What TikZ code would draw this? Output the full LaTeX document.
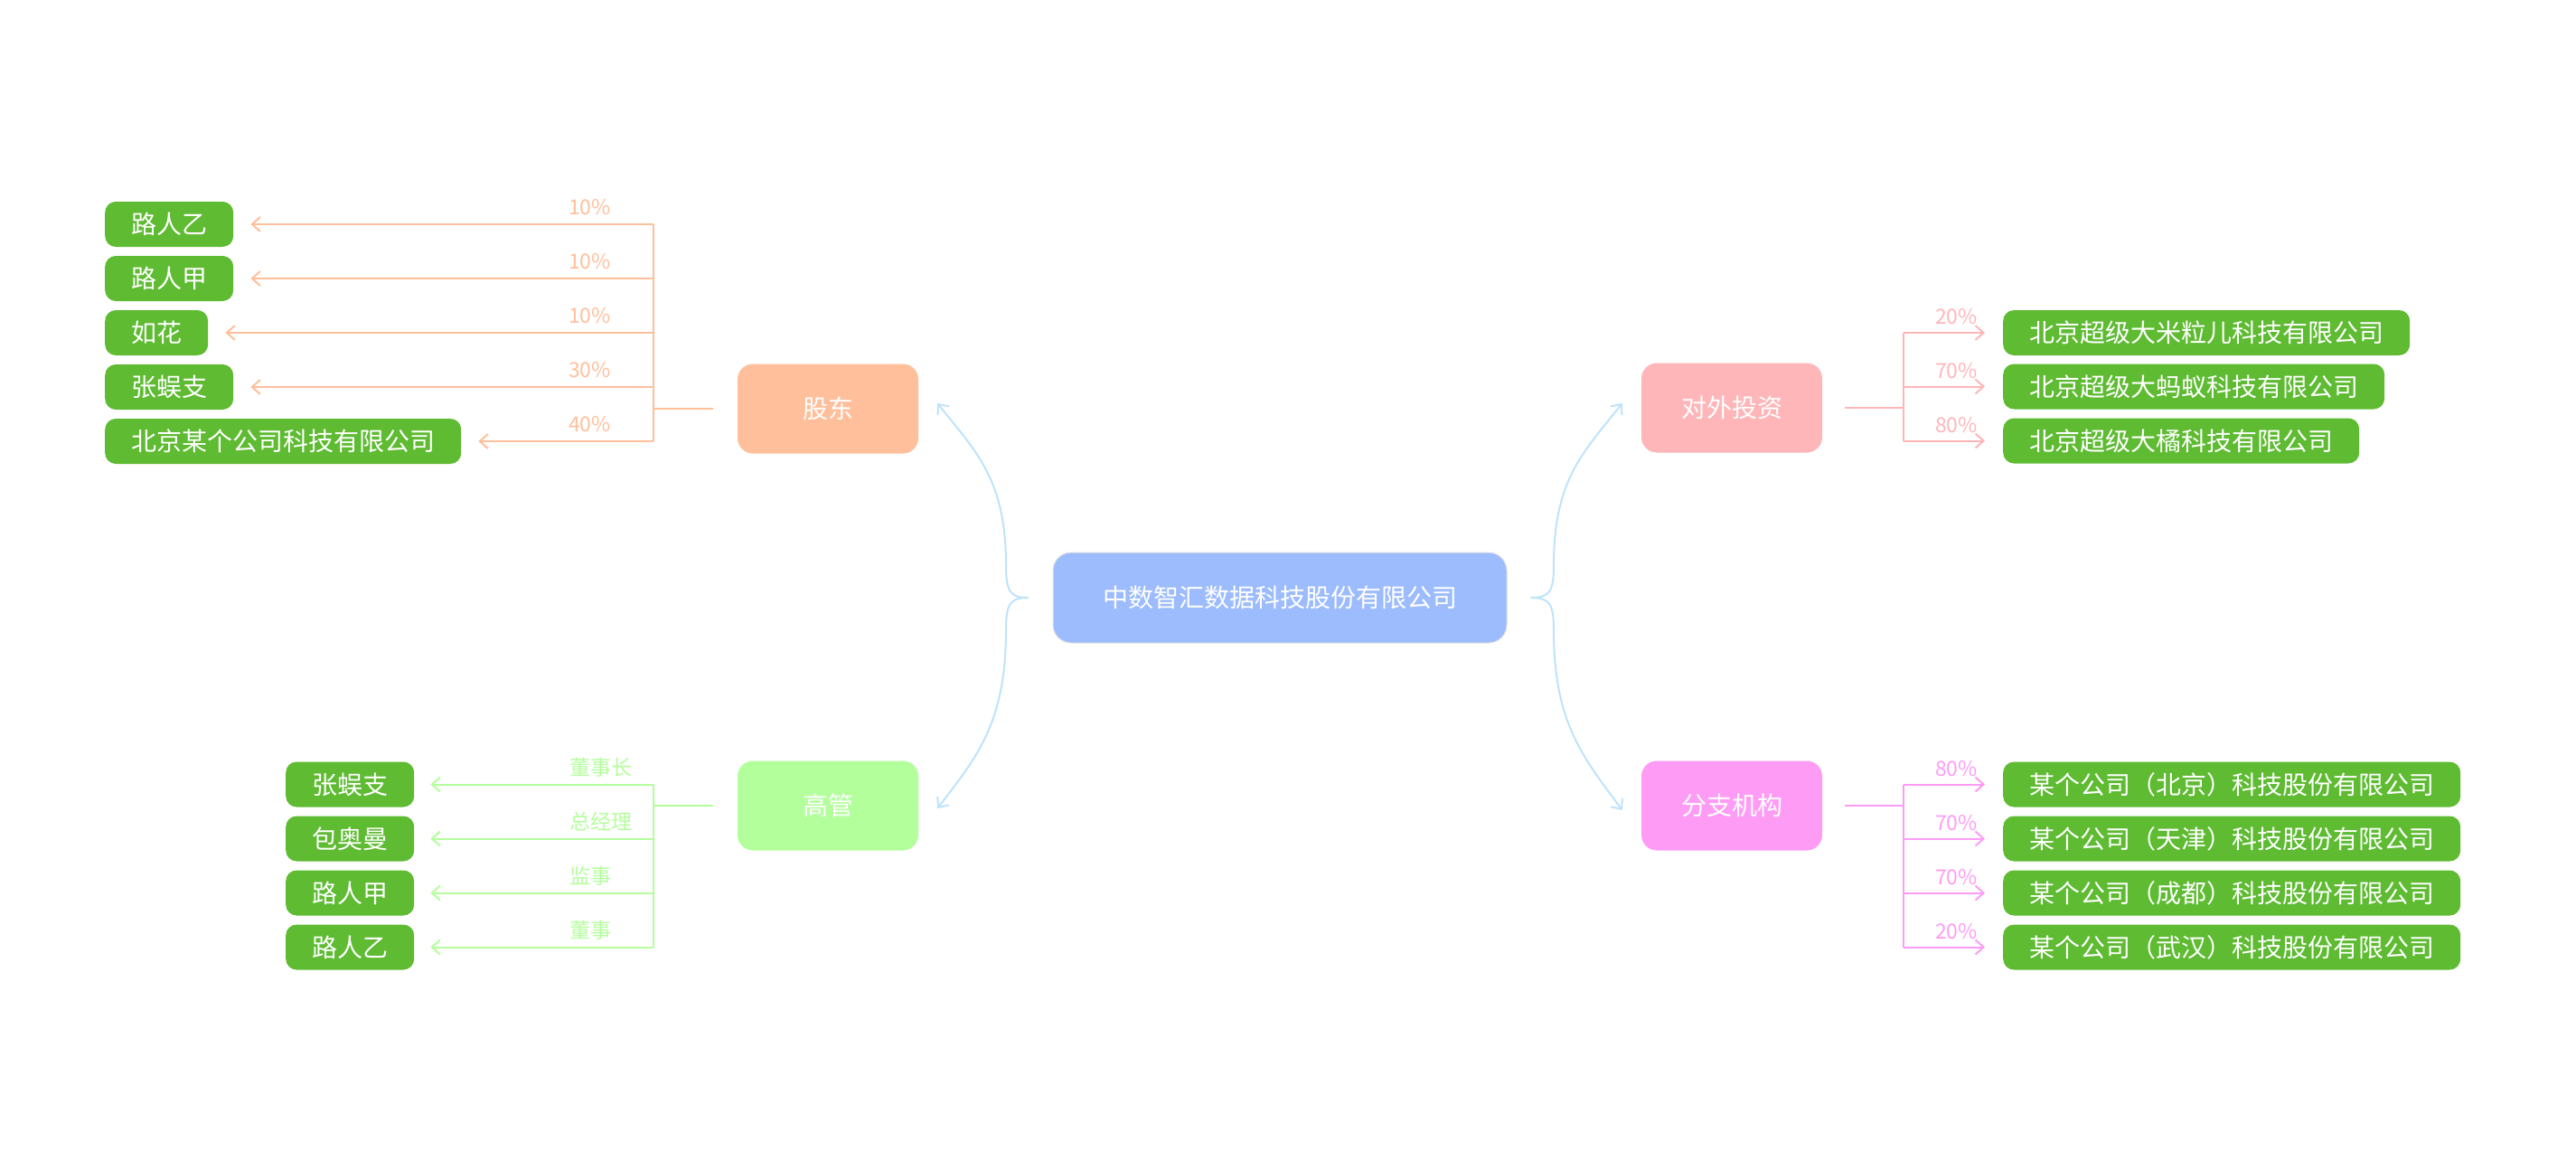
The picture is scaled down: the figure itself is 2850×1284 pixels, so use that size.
\documentclass[tikz,border=0pt]{standalone}
\usepackage{fontspec}
\setmainfont{Noto Sans CJK SC}
\usetikzlibrary{arrows.meta,calc}
\definecolor{rootc}{HTML}{9DBCFD}
\definecolor{gdc}{HTML}{FFBF9B}
\definecolor{ggc}{HTML}{B3FF9C}
\definecolor{tzc}{HTML}{FFB6B9}
\definecolor{fzc}{HTML}{FE9CF5}
\definecolor{leafc}{HTML}{5EBB32}
\definecolor{linkc}{HTML}{BEE3FB}
\begin{document}
\begin{tikzpicture}[x=1pt,y=-1pt,
  txt/.style={text height=24.6pt, text depth=3.4pt},
  leafbox/.style={txt, fill=leafc, rounded corners=12pt, text=white, font=\fontsize{28}{30}\selectfont, minimum height=50pt, inner xsep=29pt, inner ysep=0pt},
  branchbox/.style={txt, rounded corners=17pt, text=white, minimum width=200pt, minimum height=99pt, inner sep=0pt, font=\fontsize{28}{30}\selectfont},
  rootbox/.style={txt, fill=rootc, draw=black!12, line width=1pt, rounded corners=20pt, text=white, minimum width=502pt, minimum height=100pt, inner sep=0pt, font=\fontsize{28}{30}\selectfont},
  pct/.style={text height=20.2pt, text depth=2.8pt, font=\fontsize{23}{25}\selectfont, anchor=west, inner sep=0pt},
  tip/.style={-{Straight Barb[length=9pt,width=16pt]}},
  wire/.style={line width=2pt}
]
\useasboundingbox (0,0) rectangle (2850,1284);

% root and branches
\node[rootbox] (R) at (1416,661) {中数智汇数据科技股份有限公司};
\node[branchbox, fill=gdc] (gd) at (916,452) {股东};
\node[branchbox, fill=ggc] (gg) at (916,891) {高管};
\node[branchbox, fill=tzc] (tz) at (1916,451) {对外投资};
\node[branchbox, fill=fzc] (fz) at (1916,891) {分支机构};

% root connectors
\coordinate (rl) at ($(R.west)+(-27,0)$);
\coordinate (rr) at ($(R.east)+(26,0)$);
\draw[wire, linkc, tip] (rl) .. controls (1118,661) and (1113,655) .. (1113,625)
  .. controls (1113,530) and (1080,500) .. ($(gd.east)+(21,-6)$);
\draw[wire, linkc, tip] (rl) .. controls (1118,661) and (1113,667) .. (1113,697)
  .. controls (1113,800) and (1080,838) .. ($(gg.east)+(21,3)$);
\draw[wire, linkc, tip] (rr) .. controls (1714,661) and (1719,655) .. (1719,625)
  .. controls (1719,530) and (1752,500) .. ($(tz.west)+(-21,-5)$);
\draw[wire, linkc, tip] (rr) .. controls (1714,661) and (1719,667) .. (1719,697)
  .. controls (1719,800) and (1752,838) .. ($(fz.west)+(-21,5)$);

% shareholders
\node[leafbox, anchor=west] (a1) at (116,248) {路人乙};
\node[leafbox, anchor=west] (a2) at (116,308) {路人甲};
\node[leafbox, anchor=west] (a3) at (116,368) {如花};
\node[leafbox, anchor=west] (a4) at (116,428) {张蜈支};
\node[leafbox, anchor=west] (a5) at (116,488) {北京某个公司科技有限公司};
\coordinate (gdj) at (723,452);
\draw[wire, gdc] ($(gd.west)+(-27,0)$) -- (gdj);
\draw[wire, gdc] (gdj |- a1) -- (gdj |- a5);
\foreach \n/\p in {a1/10\%, a2/10\%, a3/10\%, a4/30\%, a5/40\%} {
  \draw[wire, gdc, tip] (gdj |- \n) -- ($(\n.east)+(19,0)$);
  \node[pct, text=gdc] at ($(gdj |- \n)+(-94,-19)$) {\p};
}

% executives
\node[leafbox, anchor=west] (c1) at (316,867.5) {张蜈支};
\node[leafbox, anchor=west] (c2) at (316,927.5) {包奥曼};
\node[leafbox, anchor=west] (c3) at (316,987.5) {路人甲};
\node[leafbox, anchor=west] (c4) at (316,1047.5) {路人乙};
\coordinate (ggj) at (723,891);
\draw[wire, ggc] ($(gg.west)+(-27,0)$) -- (ggj);
\draw[wire, ggc] (ggj |- c1) -- (ggj |- c4);
\foreach \n/\p in {c1/董事长, c2/总经理, c3/监事, c4/董事} {
  \draw[wire, ggc, tip] (ggj |- \n) -- ($(\n.east)+(18,0)$);
  \node[pct, text=ggc] at ($(ggj |- \n)+(-93,-19)$) {\p};
}

% investments
\node[leafbox, anchor=west] (b1) at (2216,368) {北京超级大米粒儿科技有限公司};
\node[leafbox, anchor=west] (b2) at (2216,427.5) {北京超级大蚂蚁科技有限公司};
\node[leafbox, anchor=west] (b3) at (2216,487.5) {北京超级大橘科技有限公司};
\coordinate (tzj) at (2106,451);
\draw[wire, tzc] ($(tz.east)+(25,0)$) -- (tzj);
\draw[wire, tzc] (tzj |- b1) -- (tzj |- b3);
\foreach \n/\p in {b1/20\%, b2/70\%, b3/80\%} {
  \draw[wire, tzc, tip] (tzj |- \n) -- ($(\n.west)+(-20,0)$);
  \node[pct, text=tzc] at ($(tzj |- \n)+(35,-18)$) {\p};
}

% branches
\node[leafbox, anchor=west] (d1) at (2216,867.5) {某个公司（北京）科技股份有限公司};
\node[leafbox, anchor=west] (d2) at (2216,927.5) {某个公司（天津）科技股份有限公司};
\node[leafbox, anchor=west] (d3) at (2216,987.5) {某个公司（成都）科技股份有限公司};
\node[leafbox, anchor=west] (d4) at (2216,1047.5) {某个公司（武汉）科技股份有限公司};
\coordinate (fzj) at (2106,891);
\draw[wire, fzc] ($(fz.east)+(25,0)$) -- (fzj);
\draw[wire, fzc] (fzj |- d1) -- (fzj |- d4);
\foreach \n/\p in {d1/80\%, d2/70\%, d3/70\%, d4/20\%} {
  \draw[wire, fzc, tip] (fzj |- \n) -- ($(\n.west)+(-20,0)$);
  \node[pct, text=fzc] at ($(fzj |- \n)+(35,-18)$) {\p};
}
\end{tikzpicture}
\end{document}
